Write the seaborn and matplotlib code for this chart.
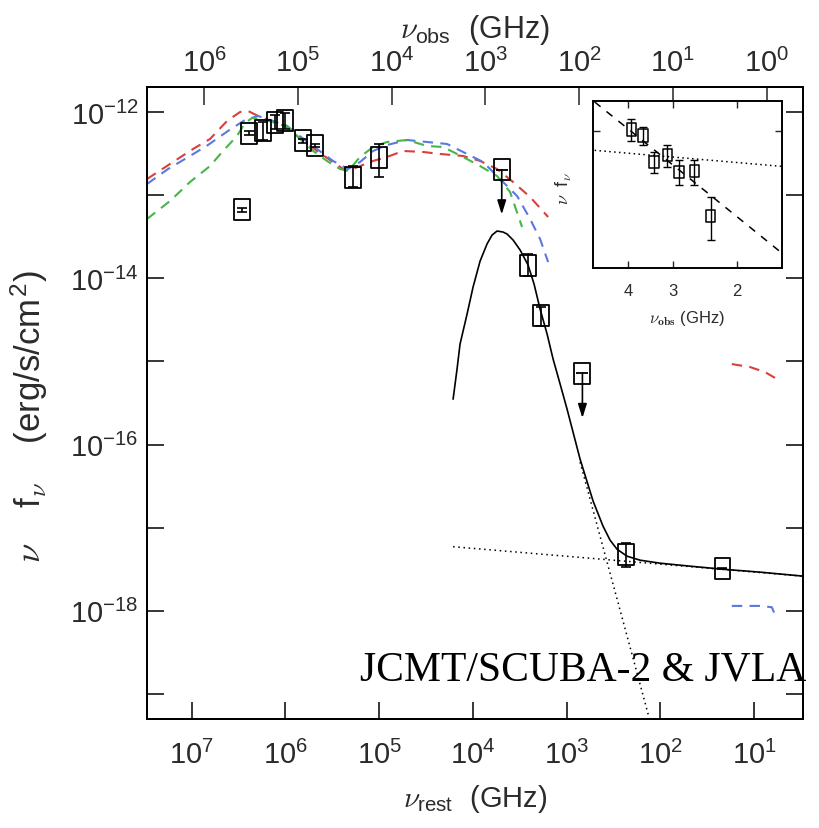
import numpy as np
import pandas as pd
import matplotlib
matplotlib.use("Agg")
import matplotlib.pyplot as plt
from matplotlib.path import Path
from matplotlib.ticker import NullLocator
import seaborn as sns

# Source redshift (links the rest-frame and observed-frame frequency axes)
z_source = 6.34

# Broad-band photometry: rest-frame frequency [GHz], nu*f_nu [erg/s/cm^2]
phot_nu = [2.92e6, 2.44e6, 1.72e6, 1.29e6, 1.01e6, 6.53e5, 4.83e5,
           1.91e5, 9.95e4, 2.56e3, 1.88e3, 233.0, 21.7]
phot_flux = [6.67e-14, 5.55e-13, 5.96e-13, 7.52e-13, 7.85e-13, 4.52e-13, 3.94e-13,
             1.64e-13, 2.85e-13, 1.44e-14, 3.54e-15, 4.80e-18, 3.23e-18]
phot_err_lo = [0.4e-14, 0.3e-13, 1.3e-13, 1.3e-13, 1.6e-13, 0.25e-13, 0.2e-13,
               0.40e-13, 1.20e-13, 0.38e-14, 0.90e-15, 1.45e-18, 0.08e-18]
phot_err_hi = [0.4e-14, 0.3e-13, 1.7e-13, 1.6e-13, 1.9e-13, 0.25e-13, 0.2e-13,
               0.58e-13, 1.27e-13, 0.51e-14, 0.93e-15, 1.72e-18, 0.08e-18]

# Upper limits (rest-frame GHz, nu*f_nu)
limit_nu = [4.92e3, 678.0]
limit_flux = [2.02e-13, 7.18e-16]

# SED templates, log10(nu_rest / GHz) and log10(nu f_nu)
red_log_nu = [7.477, 7.200, 6.986, 6.805, 6.623, 6.484, 6.399, 6.292, 6.132, 5.983,
              5.876, 5.663, 5.492, 5.385, 5.332, 5.204, 5.065, 4.916, 4.745, 4.531,
              4.350, 4.105, 3.923, 3.742, 3.571, 3.389, 3.197]
red_log_flux = [-12.806, -12.602, -12.445, -12.325, -12.108, -12.000, -11.988, -12.048,
                -12.120, -12.180, -12.289, -12.469, -12.602, -12.686, -12.710, -12.650,
                -12.589, -12.541, -12.469, -12.481, -12.505, -12.529, -12.589, -12.686,
                -12.842, -13.023, -13.263]
red_tail_log_nu = [1.237, 1.042, 0.882, 0.754]
red_tail_log_flux = [-15.032, -15.068, -15.129, -15.213]

green_log_nu = [7.477, 7.232, 7.018, 6.805, 6.666, 6.517, 6.431, 6.356, 6.218, 5.983,
                5.844, 5.705, 5.556, 5.417, 5.332, 5.204, 5.065, 4.916, 4.702, 4.489,
                4.318, 4.105, 3.923, 3.742, 3.603, 3.475]
green_log_flux = [-13.287, -13.071, -12.842, -12.650, -12.469, -12.289, -12.132, -12.072,
                  -12.096, -12.168, -12.325, -12.469, -12.589, -12.686, -12.710, -12.541,
                  -12.421, -12.361, -12.337, -12.409, -12.421, -12.541, -12.650, -12.770,
                  -12.963, -13.384]

blue_log_nu = [7.477, 7.253, 7.018, 6.826, 6.613, 6.431, 6.292, 6.132, 5.983, 5.876,
               5.663, 5.492, 5.332, 5.204, 5.065, 4.916, 4.702, 4.489, 4.275, 4.105,
               3.891, 3.710, 3.528, 3.389, 3.283, 3.197]
blue_log_flux = [-12.866, -12.686, -12.529, -12.397, -12.228, -12.096, -12.048, -12.108,
                 -12.168, -12.265, -12.445, -12.589, -12.686, -12.602, -12.469, -12.397,
                 -12.337, -12.361, -12.385, -12.481, -12.602, -12.806, -13.011, -13.287,
                 -13.528, -13.805]
blue_tail_log_nu = [1.237, 0.935, 0.810, 0.757]
blue_tail_log_flux = [-17.941, -17.941, -17.957, -18.101]

# Best-fit model: total (dust + synchrotron) and its two components
total_log_nu = [4.211, 4.169, 4.137, 4.062, 3.998, 3.923, 3.849, 3.795, 3.742, 3.678,
                3.635, 3.571, 3.496, 3.411, 3.347, 3.283, 3.208, 3.144, 3.069, 2.995,
                2.856, 2.717, 2.611, 2.536, 2.462, 2.355, 2.216, 2.003, 1.682, 1.341,
                0.935, 0.476]
total_log_flux = [-15.454, -15.093, -14.792, -14.431, -14.106, -13.793, -13.588, -13.480,
                  -13.432, -13.444, -13.468, -13.540, -13.660, -13.841, -14.070, -14.370,
                  -14.671, -14.972, -15.273, -15.574, -16.176, -16.681, -16.982, -17.150,
                  -17.259, -17.343, -17.391, -17.427, -17.463, -17.499, -17.535, -17.583]
dust_log_nu = [2.856, 2.643, 2.429, 2.216, 2.003]
dust_log_flux = [-16.212, -17.102, -17.993, -18.883, -19.774]
sync_log_nu = [4.211, 0.476]
sync_log_flux = [-17.229, -17.583]

# JVLA radio spectrum (observed GHz, nu*f_nu)
inset_nu = [3.91, 3.63, 3.39, 3.11, 2.89, 2.62, 2.36]
inset_flux = [5.06e-18, 4.73e-18, 3.46e-18, 3.75e-18, 3.09e-18, 3.11e-18, 1.84e-18]
inset_err = [0.65e-18, 0.50e-18, 0.42e-18, 0.47e-18, 0.45e-18, 0.45e-18, 0.45e-18]
inset_steep_nu = [4.94, 2.36, 1.5]
inset_steep_flux = [7.0e-18, 2.34e-18, 1.19e-18]
inset_flat_nu = [4.94, 1.5]
inset_flat_flux = [3.97e-18, 3.29e-18]

# Tick positions and labels
rest_ticks = [1e1, 1e2, 1e3, 1e4, 1e5, 1e6, 1e7]
rest_ticklabels = [r"$\mathregular{10^{%d}}$" % k for k in range(1, 8)]
obs_ticks = [1e0, 1e1, 1e2, 1e3, 1e4, 1e5, 1e6]
obs_ticklabels = [r"$\mathregular{10^{%d}}$" % k for k in range(0, 7)]
flux_ticks = [1e-19, 1e-18, 1e-17, 1e-16, 1e-15, 1e-14, 1e-13, 1e-12]
flux_ticklabels = ["", r"$\mathregular{10^{-18}}$", "", r"$\mathregular{10^{-16}}$", "",
                   r"$\mathregular{10^{-14}}$", "", r"$\mathregular{10^{-12}}$"]
inset_ticks = [4, 3, 2]
inset_ticklabels = ["4", "3", "2"]

sns.set_theme(style="ticks")
plt.rcParams["font.family"] = ["Liberation Sans", "DejaVu Sans"]
plt.rcParams["mathtext.fontset"] = "cm"
plt.rcParams["axes.edgecolor"] = "black"
plt.rcParams["axes.linewidth"] = 1.4

TXT = "#2b2b2b"
RED, GREEN, BLUE = "#d8403c", "#45b54c", "#5b78e0"
DASH = (0, (5, 3.5))
DOT = (0, (1, 2.4))

fig = plt.figure(figsize=(8.19, 8.29), dpi=100)
ax = fig.add_axes([0.1795, 0.1315, 0.8010, 0.7624])
ax.set_xscale("log")
ax.set_yscale("log")


def curve(axis, log_nu, log_flux, **kw):
    df = pd.DataFrame({"nu": 10.0 ** np.asarray(log_nu),
                       "flux": 10.0 ** np.asarray(log_flux)})
    sns.lineplot(data=df, x="nu", y="flux", ax=axis, sort=False,
                 estimator=None, errorbar=None, **kw)


# templates
for lnu, lf, col in [(red_log_nu, red_log_flux, RED),
                     (blue_log_nu, blue_log_flux, BLUE),
                     (green_log_nu, green_log_flux, GREEN),
                     (red_tail_log_nu, red_tail_log_flux, RED),
                     (blue_tail_log_nu, blue_tail_log_flux, BLUE)]:
    curve(ax, lnu, lf, color=col, lw=1.5, linestyle=DASH)

# model components and total
curve(ax, dust_log_nu, dust_log_flux, color="black", lw=1.1, linestyle=DOT)
curve(ax, sync_log_nu, sync_log_flux, color="black", lw=1.1, linestyle=DOT)
curve(ax, total_log_nu, total_log_flux, color="black", lw=1.2)

# photometry
box = Path([(-0.38, -0.5), (0.38, -0.5), (0.38, 0.5), (-0.38, 0.5), (-0.38, -0.5)],
           [Path.MOVETO, Path.LINETO, Path.LINETO, Path.LINETO, Path.CLOSEPOLY])
ax.errorbar(phot_nu, phot_flux, yerr=[phot_err_lo, phot_err_hi], fmt="none",
            ecolor="black", elinewidth=1.2, capsize=3.5, capthick=1.2, zorder=4)
sns.scatterplot(x=phot_nu + limit_nu, y=phot_flux + limit_flux, ax=ax,
                marker=box, s=225, zorder=5)
pts = ax.collections[-1]
pts.set_facecolor("none")
pts.set_edgecolor("black")
pts.set_linewidth(1.3)

# upper limits: cap at the value and an arrow pointing down
ax.plot(limit_nu, limit_flux, ls="none", marker="_", ms=8, mew=1.3, color="black", zorder=5)
for nu, fl in zip(limit_nu, limit_flux):
    ax.annotate("", xy=(nu, fl * 0.29), xytext=(nu, fl),
                arrowprops=dict(arrowstyle="-|>,head_length=0.7,head_width=0.22",
                                color="black", lw=1.2, shrinkA=0, shrinkB=0,
                                mutation_scale=12), zorder=5)

ax.set_xlim(3e7, 3.0)
ax.set_ylim(5e-20, 2e-12)
ax.set_xticks(rest_ticks, labels=rest_ticklabels)
ax.set_yticks(flux_ticks, labels=flux_ticklabels)
ax.xaxis.set_minor_locator(NullLocator())
ax.yaxis.set_minor_locator(NullLocator())
ax.tick_params(axis="both", which="major", direction="in", length=12, width=1.1,
               labelsize=21, labelcolor=TXT, color="black")
ax.tick_params(axis="y", right=True, pad=6)
ax.tick_params(axis="x", top=False, pad=15)
ax.set_xlabel(r"$\nu_{\mathregular{rest}}$  (GHz)", fontsize=21, color=TXT, labelpad=9)
ax.set_ylabel(r"$\nu$    f$_{\nu}$    (erg/s/cm$^{\mathregular{2}}$)", fontsize=25, color=TXT)
ax.yaxis.set_label_coords(-0.148, 0.48)

# observed-frame axis on top
ax_top = ax.twiny()
ax_top.set_xscale("log")
ax_top.set_xlim(3e7 / (1 + z_source), 3.0 / (1 + z_source))
ax_top.set_xticks(obs_ticks, labels=obs_ticklabels)
ax_top.xaxis.set_minor_locator(NullLocator())
ax_top.tick_params(axis="x", direction="in", length=13, width=1.1, labelsize=21,
                   labelcolor=TXT, pad=7)
ax_top.set_xlabel(r"$\nu_{\mathregular{obs}}$  (GHz)", fontsize=22, color=TXT, labelpad=8)

ax.text(1.005, 0.062, "JCMT/SCUBA-2 & JVLA", transform=ax.transAxes, ha="right",
        va="baseline", fontsize=30, family=["Liberation Serif", "DejaVu Serif"],
        color="black", clip_on=False, zorder=6)

# radio inset
ins = fig.add_axes([0.7237, 0.6755, 0.2311, 0.2018])
ins.set_xscale("log")
ins.set_yscale("log")
ins.set_xlim(5.0, 1.5)
ins.set_ylim(1.0e-18, 7.1e-18)
ins.plot(inset_steep_nu, inset_steep_flux, color="black", lw=1.1, ls=(0, (5, 5)))
ins.plot(inset_flat_nu, inset_flat_flux, color="black", lw=1.1, ls=(0, (1, 2.2)))
ins.errorbar(inset_nu, inset_flux, yerr=inset_err, fmt="none", ecolor="black",
             elinewidth=1.0, capsize=3, capthick=1.0)
sns.scatterplot(x=inset_nu, y=inset_flux, ax=ins, marker=box, s=80, zorder=5)
ipts = ins.collections[-1]
ipts.set_facecolor("none")
ipts.set_edgecolor("black")
ipts.set_linewidth(1.1)
ins.set_xticks(inset_ticks, labels=inset_ticklabels)
ins.set_yticks([5e-18], labels=[""])
ins.xaxis.set_minor_locator(NullLocator())
ins.yaxis.set_minor_locator(NullLocator())
ins.tick_params(axis="both", direction="in", length=5, width=1.0, labelsize=12,
                labelcolor=TXT, top=True, right=True, pad=11)
ins.set_xlabel(r"$\nu_{\mathbf{obs}}$ (GHz)", fontsize=12, color=TXT, labelpad=7)
ins.set_ylabel(r"$\nu$  f$_{\nu}$", fontsize=13, color=TXT)
ins.yaxis.set_label_coords(-0.10, 0.48)
for sp in ins.spines.values():
    sp.set_linewidth(1.4)

fig.savefig("out.png", dpi=100)
